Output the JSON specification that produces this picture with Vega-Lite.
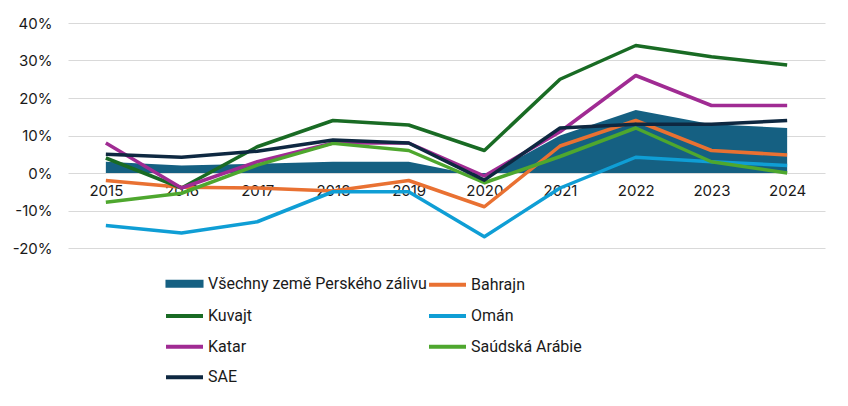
{
  "$schema": "https://vega.github.io/schema/vega-lite/v6.json",
  "width": 757,
  "height": 225,
  "autosize": {"type": "none"},
  "padding": {"left": 68, "top": 23, "right": 23, "bottom": 158},
  "background": "white",
  "config": {
    "font": "Inter",
    "view": {"stroke": null},
    "axis": {"labelFont": "Inter", "labelFontSize": 15, "labelColor": "#1a1a1a"}
  },
  "datasets": {
    "rows": [
      {"year": "2015", "series": "Všechny země Perského zálivu", "value": 3},
      {"year": "2016", "series": "Všechny země Perského zálivu", "value": 2},
      {"year": "2017", "series": "Všechny země Perského zálivu", "value": 2.5},
      {"year": "2018", "series": "Všechny země Perského zálivu", "value": 3},
      {"year": "2019", "series": "Všechny země Perského zálivu", "value": 3},
      {"year": "2020", "series": "Všechny země Perského zálivu", "value": -1},
      {"year": "2021", "series": "Všechny země Perského zálivu", "value": 10},
      {"year": "2022", "series": "Všechny země Perského zálivu", "value": 16.8},
      {"year": "2023", "series": "Všechny země Perského zálivu", "value": 13},
      {"year": "2024", "series": "Všechny země Perského zálivu", "value": 12},
      {"year": "2015", "series": "Bahrajn", "value": -2},
      {"year": "2016", "series": "Bahrajn", "value": -3.8},
      {"year": "2017", "series": "Bahrajn", "value": -4},
      {"year": "2018", "series": "Bahrajn", "value": -4.8},
      {"year": "2019", "series": "Bahrajn", "value": -2},
      {"year": "2020", "series": "Bahrajn", "value": -9},
      {"year": "2021", "series": "Bahrajn", "value": 7.2},
      {"year": "2022", "series": "Bahrajn", "value": 14},
      {"year": "2023", "series": "Bahrajn", "value": 6},
      {"year": "2024", "series": "Bahrajn", "value": 4.8},
      {"year": "2015", "series": "Kuvajt", "value": 4},
      {"year": "2016", "series": "Kuvajt", "value": -4},
      {"year": "2017", "series": "Kuvajt", "value": 7},
      {"year": "2018", "series": "Kuvajt", "value": 14},
      {"year": "2019", "series": "Kuvajt", "value": 12.8},
      {"year": "2020", "series": "Kuvajt", "value": 6},
      {"year": "2021", "series": "Kuvajt", "value": 25},
      {"year": "2022", "series": "Kuvajt", "value": 34},
      {"year": "2023", "series": "Kuvajt", "value": 31},
      {"year": "2024", "series": "Kuvajt", "value": 28.8},
      {"year": "2015", "series": "Omán", "value": -14},
      {"year": "2016", "series": "Omán", "value": -16},
      {"year": "2017", "series": "Omán", "value": -13},
      {"year": "2018", "series": "Omán", "value": -5},
      {"year": "2019", "series": "Omán", "value": -5},
      {"year": "2020", "series": "Omán", "value": -17},
      {"year": "2021", "series": "Omán", "value": -4},
      {"year": "2022", "series": "Omán", "value": 4.2},
      {"year": "2023", "series": "Omán", "value": 3},
      {"year": "2024", "series": "Omán", "value": 2},
      {"year": "2015", "series": "Katar", "value": 8},
      {"year": "2016", "series": "Katar", "value": -4},
      {"year": "2017", "series": "Katar", "value": 3},
      {"year": "2018", "series": "Katar", "value": 8},
      {"year": "2019", "series": "Katar", "value": 8},
      {"year": "2020", "series": "Katar", "value": -0.8},
      {"year": "2021", "series": "Katar", "value": 11},
      {"year": "2022", "series": "Katar", "value": 26},
      {"year": "2023", "series": "Katar", "value": 18},
      {"year": "2024", "series": "Katar", "value": 18},
      {"year": "2015", "series": "Saúdská Arábie", "value": -7.8},
      {"year": "2016", "series": "Saúdská Arábie", "value": -5.4},
      {"year": "2017", "series": "Saúdská Arábie", "value": 2.1},
      {"year": "2018", "series": "Saúdská Arábie", "value": 7.9},
      {"year": "2019", "series": "Saúdská Arábie", "value": 6},
      {"year": "2020", "series": "Saúdská Arábie", "value": -2.6},
      {"year": "2021", "series": "Saúdská Arábie", "value": 4.4},
      {"year": "2022", "series": "Saúdská Arábie", "value": 12},
      {"year": "2023", "series": "Saúdská Arábie", "value": 3},
      {"year": "2024", "series": "Saúdská Arábie", "value": 0},
      {"year": "2015", "series": "SAE", "value": 5},
      {"year": "2016", "series": "SAE", "value": 4.2},
      {"year": "2017", "series": "SAE", "value": 5.8},
      {"year": "2018", "series": "SAE", "value": 8.8},
      {"year": "2019", "series": "SAE", "value": 8},
      {"year": "2020", "series": "SAE", "value": -1.9},
      {"year": "2021", "series": "SAE", "value": 12},
      {"year": "2022", "series": "SAE", "value": 13},
      {"year": "2023", "series": "SAE", "value": 13},
      {"year": "2024", "series": "SAE", "value": 14}
    ]
  },
  "data": {"name": "rows"},
  "encoding": {
    "x": {
      "field": "year",
      "type": "ordinal",
      "scale": {"type": "point", "padding": 0.5},
      "axis": {
        "title": null,
        "domain": false,
        "ticks": false,
        "grid": false,
        "labelAngle": 0,
        "offset": -75,
        "labelPadding": 10
      }
    },
    "y": {
      "field": "value",
      "type": "quantitative",
      "scale": {"domain": [-20, 40], "nice": false, "zero": false},
      "axis": {
        "title": null,
        "domain": false,
        "ticks": false,
        "values": [-20, -10, 0, 10, 20, 30, 40],
        "labelExpr": "datum.value + '%'",
        "labelPadding": 16,
        "gridColor": "#d9d9d9",
        "gridWidth": 1
      }
    }
  },
  "layer": [
    {
      "transform": [{"filter": "datum.series === 'Všechny země Perského zálivu'"}],
      "mark": {"type": "area", "color": "#156082", "opacity": 1}
    },
    {
      "transform": [{"filter": "datum.series !== 'Všechny země Perského zálivu'"}],
      "mark": {"type": "line", "strokeWidth": 3.5, "strokeJoin": "round"},
      "encoding": {
        "color": {
          "field": "series",
          "type": "nominal",
          "sort": null,
          "scale": {
            "domain": ["Všechny země Perského zálivu", "Kuvajt", "Katar", "SAE", "Bahrajn", "Omán", "Saúdská Arábie"],
            "range": ["#156082", "#196B24", "#A02B93", "#0E2841", "#E97132", "#0F9ED5", "#4EA72E"]
          },
          "legend": {
            "title": null,
            "orient": "none",
            "legendX": 96,
            "legendY": 240,
            "columns": 2,
            "columnPadding": -8,
            "rowPadding": 1.6,
            "symbolType": "stroke",
            "symbolSize": 1369,
            "symbolStrokeWidth": 4,
            "labelFontSize": 16,
            "labelFont": "Roboto",
            "labelColor": "#1a1a1a",
            "labelOffset": 3,
            "labelLimit": 400,
            "encode": {
              "symbols": {
                "update": {
                  "shape": {"signal": "datum.value === 'Všechny země Perského zálivu' ? 'M-0.92,-0.11H0.92V0.11H-0.92Z' : 'stroke'"},
                  "fill": {"signal": "datum.value === 'Všechny země Perského zálivu' ? '#156082' : 'transparent'"}
                }
              }
            }
          }
        }
      }
    }
  ]
}
